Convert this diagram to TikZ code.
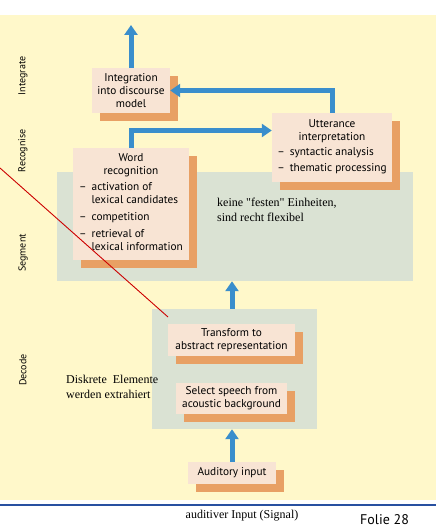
\documentclass[tikz,border=0pt]{standalone}
\usepackage{fontspec}
\setmainfont{Liberation Serif}
\setsansfont{PT Sans}
\usetikzlibrary{arrows.meta,shadows}
\definecolor{slideyellow}{RGB}{255,248,202}
\definecolor{bandgreen}{RGB}{218,226,211}
\definecolor{boxpeach}{RGB}{248,228,212}
\definecolor{boxshadow}{RGB}{232,160,100}
\definecolor{flowblue}{RGB}{58,142,204}
\definecolor{rulerblue}{RGB}{40,80,160}
\tikzset{
  stagebox/.style={fill=boxpeach, inner sep=1pt, align=center,
    font=\sffamily\fontsize{11.3}{13}\selectfont,
    drop shadow={shadow xshift=7.5pt, shadow yshift=-8pt, fill=boxshadow, opacity=1}},
  band/.style={fill=bandgreen, inner sep=0pt},
  stagelabel/.style={rotate=90, font=\sffamily\fontsize{10}{12}\selectfont},
  flow/.style={->, flowblue, line width=5pt},
  note/.style={align=left, anchor=north west, inner sep=0pt, font=\fontsize{12}{14.5}\selectfont}
}
\newcommand{\dashlist}[1]{\begin{tabular}{@{}l@{\hspace{5pt}}l@{}}#1\end{tabular}}
\begin{document}
\begin{tikzpicture}[x=1pt,y=-1pt,>={Triangle[width=13pt,length=10pt]}]
\useasboundingbox (0,0) rectangle (436,526);
\fill[slideyellow] (0,15) rectangle (436,500);
\draw[rulerblue, line width=1.2pt] (0,505) -- (436,505);
% stage labels
\node[stagelabel] (lint) at (23,76) {Integrate};
\node[stagelabel] (lrec) at (23,151) {Recognise};
\node[stagelabel] (lseg) at (23,253) {Segment};
\node[stagelabel] (ldec) at (23,370) {Decode};
% bands
\node[band, minimum width=356pt, minimum height=109pt] (segment) at (235,226.5) {};
\node[band, minimum width=165pt, minimum height=120pt] (decode) at (234.5,369) {};
% boxes
\node[stagebox, minimum width=78pt, minimum height=45pt] (integ) at (131,90.5)
  {Integration\\into discourse\\model};
\node[stagebox, minimum width=120pt, minimum height=69pt] (utter) at (332,147.5)
  {Utterance\\interpretation\\[3pt]
   \dashlist{--& syntactic analysis\\[3pt] --& thematic processing}};
\node[stagebox, minimum width=116pt, minimum height=112pt] (word) at (131,204)
  {Word\\recognition\\[3pt]
   \dashlist{--& activation of\\ & lexical candidates\\[4pt] --& competition\\[4pt]
   --& retrieval of\\ & lexical information}};
\node[stagebox, minimum width=127pt, minimum height=32pt] (trans) at (231.5,340)
  {Transform to\\abstract representation};
\node[stagebox, minimum width=111pt, minimum height=31pt] (select) at (231.5,398.5)
  {Select speech from\\acoustic background};
\node[stagebox, minimum width=88pt, minimum height=22pt] (audit) at (232,473)
  {Auditory input};
% arrows
\coordinate (out) at (131,25);
\draw[flow] (integ.north) -- (out);
\draw[flow] (utter.north) |- (integ.east);
\draw[flow] (word.north) |- ([yshift=17pt]utter.west);
\draw[flow] (decode.north -| audit) -- (segment.south -| audit);
\draw[flow] (audit.north) -- (decode.south -| audit);
% notes
\node[note] (n1) at (217,198) {keine \textquotedbl festen\textquotedbl{} Einheiten,\\sind recht flexibel};
\node[note] (n2) at (66,375) {Diskrete\ \ Elemente\\werden extrahiert};
\coordinate (rs) at (0,168);
\coordinate (re) at (168,317);
\draw[red!80!black, line width=0.9pt] (rs) -- (re);
% footer
\node[font=\fontsize{12}{14}\selectfont] (sig) at (242,516) {auditiver Input (Signal)};
\node[anchor=north west, inner sep=0pt, font=\sffamily\fontsize{14}{16}\selectfont] (folie) at (360,514) {Folie 28};
\end{tikzpicture}
\end{document}
